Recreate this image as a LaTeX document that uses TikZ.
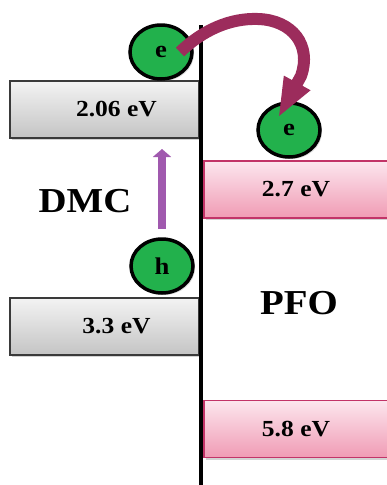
\documentclass[tikz,border=0pt]{standalone}
\usepackage{fontspec}
\usepackage{graphicx}
\setmainfont{Liberation Serif}
\usetikzlibrary{shapes.geometric,shadows,arrows.meta}
\newcommand\wide[1]{\scalebox{1.11}[1]{#1}}
\definecolor{boxgrayT}{HTML}{F3F3F3}
\definecolor{boxgrayB}{HTML}{C4C4C4}
\definecolor{boxgrayD}{HTML}{3A3A3A}
\definecolor{pinkT}{HTML}{FCE6EE}
\definecolor{pinkB}{HTML}{F09BB4}
\definecolor{pinkD}{HTML}{C23468}
\definecolor{ballgreen}{HTML}{22B14C}
\definecolor{maroon}{HTML}{9C2C5C}
\definecolor{violet}{HTML}{A059AE}
\tikzset{
  level/.style={rectangle, minimum height=57pt, inner sep=0pt,
    font=\bfseries\fontsize{23}{25}\selectfont,
    drop shadow={shadow xshift=2pt, shadow yshift=-2pt, opacity=0.35}},
  graylevel/.style={level, minimum width=189pt, draw=boxgrayD, line width=1.2pt,
    top color=boxgrayT, bottom color=boxgrayB},
  pinklevel/.style={level, minimum width=184pt, draw=pinkD, line width=1.2pt,
    top color=pinkT, bottom color=pinkB},
  carrier/.style={ellipse, minimum width=62pt, minimum height=54pt, inner sep=0pt,
    draw=black, line width=3.5pt, fill=ballgreen,
    font=\bfseries\fontsize{24}{25}\selectfont,
    drop shadow={shadow xshift=2pt, shadow yshift=-2pt, opacity=0.3}},
  material/.style={font=\bfseries\fontsize{35}{38}\selectfont},
}
\begin{document}
\begin{tikzpicture}[x=1pt,y=-1pt]
\useasboundingbox (0,0) rectangle (387,485);
% levels
\node[graylevel] (dmcL) at (104.5,109.5) {\hspace*{24pt}\wide{2.06 eV}};
\node[graylevel] (dmcH) at (104.5,326.5) {\hspace*{24pt}\wide{3.3 eV}};
\node[pinklevel] (pfoL) at (296,189.5) {\wide{2.7 eV}};
\node[pinklevel] (pfoH) at (296,429) {\wide{5.8 eV}};
% interface line
\coordinate (lineTop) at (201,25);
\coordinate (lineBot) at (201,485);
\draw[line width=4pt] (lineTop) -- (lineBot);
% labels
\node[material] (dmc) at (85,201) {\wide{DMC}};
\node[material] (pfo) at (299,303) {\wide{PFO}};
% carriers
\node[carrier] (e1) at (161,52) {\wide{e}};
\node[carrier] (e2) at (289,130) {\wide{e}};
\node[carrier] (h1) at (162,266) {\wide{h}};
% excitation arrow
\coordinate (exTail) at (162,229);
\coordinate (exTip) at (162,149);
\draw[violet, line width=8pt, -{Triangle[width=18pt,length=8pt]}] (exTail) -- (exTip);
% transfer arrow
\coordinate (trTail) at (180,52);
\coordinate (trTop) at (258,19);
\coordinate (trBend) at (301,76);
\coordinate (trTip) at (278,118);
\draw[maroon, line width=12pt, -{Triangle[width=27pt,length=40pt]}]
  (trTail) .. controls (203,30) and (230,18) .. (trTop)
  .. controls (292,20) and (312,45) .. (trBend) -- (trTip);
\end{tikzpicture}
\end{document}
